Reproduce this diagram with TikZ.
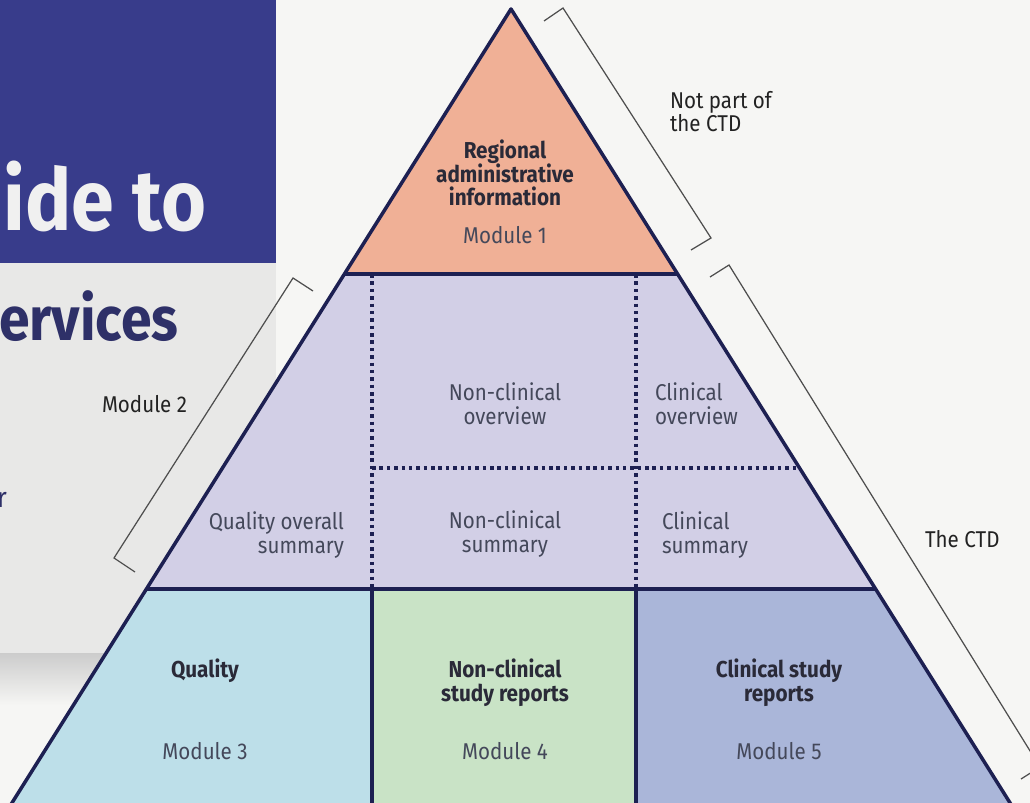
\documentclass[tikz,border=0pt]{standalone}
\usepackage{fontspec}
\setmainfont[FakeStretch=0.9]{Fira Sans}

\definecolor{pagebg}{HTML}{F6F6F4}
\definecolor{coverblue}{HTML}{383C8B}
\definecolor{covergray}{HTML}{E8E8E7}
\definecolor{covernavy}{HTML}{2E3068}
\definecolor{edge}{HTML}{1D2052}
\definecolor{modone}{HTML}{F0B096}
\definecolor{modtwo}{HTML}{D2CFE6}
\definecolor{modthree}{HTML}{BDDFE9}
\definecolor{modfour}{HTML}{C9E3C6}
\definecolor{modfive}{HTML}{AAB6D9}
\definecolor{txtdark}{HTML}{2A2A38}
\definecolor{txtgray}{HTML}{44485A}
\definecolor{notegray}{HTML}{222222}

\begin{document}
\begin{tikzpicture}[
  x=0.02cm, y=-0.02cm,
  every node/.style={inner sep=0pt, outer sep=0pt},
  lbl/.style={font=\fontsize{13}{13.6}\selectfont, text=txtgray, align=center},
  hdr/.style={lbl, font=\fontsize{13.1}{13.6}\selectfont\bfseries, text=txtdark},
  note/.style={font=\fontsize{13}{13.6}\selectfont, text=notegray, align=left},
  frame/.style={draw=edge, line width=2pt, line join=round},
  dots/.style={draw=edge, line width=2pt, dash pattern=on 2pt off 2.2pt},
  bracket/.style={draw=notegray!80, line width=0.7pt},
]

\useasboundingbox (0,0) rectangle (1030,803);
\clip (0,0) rectangle (1030,803);

% page and the book cover behind
\fill[pagebg] (0,0) rectangle (1030,803);
\shade[top color=black!20, bottom color=pagebg] (0,653) rectangle (285,705);
\fill[covergray] (0,263) rectangle (276,653);
\fill[coverblue] (0,0) rectangle (276,263);
\node[anchor=base east, text=white!94!black, font=\fontsize{48.8}{48.8}\selectfont\bfseries] (ctitle) at (206,231) {uide to};
\node[anchor=base west, text=covernavy, font=\fontsize{35}{35}\selectfont\bfseries] (csub) at (-1,341) {ervices};
\node[anchor=base east, text=covernavy, font=\fontsize{16}{16}\selectfont] (cfor) at (7,507) {r};

% pyramid fills
\fill[modone] (511,9) -- (344.4,274) -- (677.6,274) -- cycle;
\fill[modtwo] (344.4,274) -- (677.6,274) -- (875.6,589) -- (146.4,589) -- cycle;
\fill[modthree] (146.4,589) -- (372,589) -- (372,806) -- (10,806) -- cycle;
\fill[modfour] (372,589) -- (636,589) -- (636,806) -- (372,806) -- cycle;
\fill[modfive] (636,589) -- (875.6,589) -- (1012,806) -- (636,806) -- cycle;

% inner lines
\draw[dots] (372,274) -- (372,589);
\draw[dots] (636,274) -- (636,589);
\draw[dots] (372,468) -- (799.5,468);
\draw[frame] (344.4,274) -- (677.6,274);
\draw[frame] (146.4,589) -- (875.6,589);
\draw[frame] (372,589) -- (372,806);
\draw[frame] (636,589) -- (636,806);

% outline
\draw[frame] (511,9) -- (10,806) -- (1012,806) -- cycle;

% Module 1
\node[hdr, anchor=base] (regional) at (505,206) {Regional\\administrative\\information};
\node[lbl, anchor=base] (mone) at (505,244) {Module 1};

% Module 2
\node[lbl, anchor=base] (ncover) at (505,424) {Non-clinical\\overview};
\node[lbl, anchor=base west, align=left] (clover) at (655,424) {Clinical\\overview};
\node[lbl, anchor=base east, align=right] (qos) at (344,553) {Quality overall\\summary};
\node[lbl, anchor=base] (ncsum) at (505,552) {Non-clinical\\summary};
\node[lbl, anchor=base west, align=left] (clsum) at (662,553) {Clinical\\summary};

% Modules 3 to 5
\node[hdr, anchor=base] (quality) at (205,677) {Quality};
\node[lbl, anchor=base] (mthree) at (205,759) {Module 3};
\node[hdr, anchor=base] (ncstudy) at (505,701) {Non-clinical\\study reports};
\node[lbl, anchor=base] (mfour) at (505,759) {Module 4};
\node[hdr, anchor=base] (clstudy) at (779,701) {Clinical study\\reports};
\node[lbl, anchor=base] (mfive) at (779,759) {Module 5};

% brackets and their notes
\draw[bracket] (544,21) -- (563,8) -- (711,238) -- (691,250);
\draw[bracket] (710,277) -- (729,265) -- (1040,767) -- (1021,779);
\draw[bracket] (313,291) -- (293,278) -- (114,558) -- (135,572);
\node[note, anchor=base west] (notctd) at (670,132) {Not part of\\the CTD};
\node[note, anchor=base west] (ctd) at (925,547) {The CTD};
\node[note, anchor=base west] (mtwo) at (102,412) {Module 2};

\end{tikzpicture}
\end{document}
